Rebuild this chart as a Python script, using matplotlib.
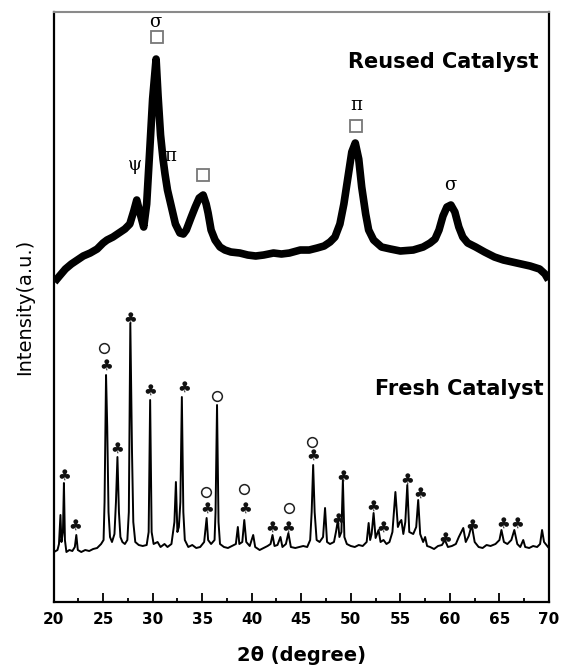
import matplotlib
matplotlib.use("Agg")
import matplotlib.pyplot as plt

# reused catalyst trace (centre of the noisy band), 2theta / intensity (a.u.)
reused_2theta = [20.1, 20.6, 21.2, 21.8, 22.4, 23.0, 23.7, 24.4, 25.0, 25.4, 26.0, 26.6,
                 27.2, 27.7, 28.1, 28.4, 28.7, 29.1, 29.4, 29.7, 30.0, 30.35, 30.55, 30.8,
                 31.05, 31.25, 31.5, 31.9, 32.3, 32.75, 33.1, 33.4, 33.9, 34.3, 34.7, 35.1,
                 35.4, 35.6, 35.9, 36.3, 36.8, 37.3, 37.9, 38.8, 39.6, 40.4, 41.2, 42.2,
                 43.0, 43.8, 44.9, 45.8, 46.6, 47.3, 47.9, 48.4, 48.9, 49.3, 49.7, 50.1,
                 50.45, 50.8, 51.1, 51.5, 51.8, 52.3, 53.1, 54.0, 55.0, 56.3, 57.3, 58.0,
                 58.5, 58.9, 59.3, 59.7, 60.1, 60.5, 60.9, 61.3, 61.8, 62.6, 63.5, 64.5,
                 65.4, 66.3, 67.2, 68.1, 69.05, 69.6, 69.95]
reused_counts = [320, 326, 333, 338, 342, 346, 349, 353, 359, 362, 365, 369,
                 373, 378, 391, 402, 390, 375, 398, 450, 503, 543, 506, 467,
                 443, 428, 412, 395, 378, 369, 368, 372, 385, 395, 404, 407,
                 398, 389, 372, 362, 355, 352, 350, 349, 347, 346, 347, 349,
                 348, 349, 352, 352, 354, 356, 360, 365, 378, 398, 424, 450,
                 459, 443, 415, 388, 372, 362, 355, 353, 351, 352, 355, 359,
                 363, 372, 386, 395, 397, 390, 375, 365, 359, 355, 350, 345,
                 342, 340, 338, 336, 333, 328, 322]

# fresh catalyst trace
fresh_2theta = [20.05, 20.4, 20.55, 20.7, 20.8, 20.95, 21.05, 21.15, 21.3, 21.6, 21.9, 22.15,
                22.3, 22.45, 22.8, 23.2, 23.6, 24.0, 24.4, 24.8, 25.05, 25.15, 25.3, 25.42,
                25.55, 25.7, 25.9, 26.15, 26.3, 26.45, 26.6, 26.75, 26.95, 27.2, 27.45, 27.6,
                27.75, 27.92, 28.05, 28.25, 28.6, 29.0, 29.4, 29.6, 29.75, 29.9, 30.1, 30.5,
                30.8, 31.2, 31.5, 31.9, 32.2, 32.35, 32.5, 32.65, 32.8, 32.95, 33.1, 33.25,
                33.6, 34.0, 34.4, 34.8, 35.2, 35.45, 35.6, 35.9, 36.25, 36.35, 36.5, 36.65,
                36.8, 37.2, 37.6, 38.0, 38.4, 38.6, 38.75, 39.05, 39.25, 39.45, 39.8, 40.15,
                40.35, 40.8, 41.2, 41.6, 41.9, 42.1, 42.3, 42.6, 42.9, 43.1, 43.45, 43.7,
                43.95, 44.4, 44.8, 45.2, 45.6, 45.9, 46.05, 46.2, 46.35, 46.55, 46.85, 47.2,
                47.4, 47.6, 47.9, 48.3, 48.5, 48.7, 48.85, 49.05, 49.2, 49.35, 49.6, 50.0,
                50.4, 50.8, 51.2, 51.6, 51.8, 51.95, 52.1, 52.3, 52.5, 52.8, 53.0, 53.3,
                53.6, 53.9, 54.2, 54.5, 54.75, 54.95, 55.1, 55.3, 55.5, 55.7, 55.9, 56.3,
                56.6, 56.8, 57.0, 57.3, 57.5, 57.7, 58.0, 58.4, 58.8, 59.2, 59.5, 59.8,
                60.2, 60.6, 60.9, 61.35, 61.6, 61.9, 62.2, 62.5, 62.9, 63.3, 63.7, 64.1,
                64.6, 65.0, 65.2, 65.45, 65.8, 66.2, 66.5, 66.8, 67.1, 67.4, 67.6, 68.0,
                68.4, 68.8, 69.1, 69.3, 69.5, 69.9]
fresh_counts = [50, 52, 58, 87, 60, 70, 119, 62, 50, 52, 51, 55,
                67, 52, 50, 52, 51, 53, 54, 58, 62, 100, 227, 175,
                90, 65, 60, 68, 100, 145, 90, 65, 60, 58, 62, 90,
                279, 150, 80, 60, 57, 56, 57, 70, 202, 70, 58, 60,
                55, 58, 55, 58, 80, 120, 70, 75, 100, 205, 90, 62,
                55, 57, 54, 55, 60, 84, 62, 58, 62, 90, 197, 80,
                58, 55, 54, 56, 58, 75, 58, 60, 82, 60, 56, 67,
                55, 52, 54, 56, 58, 67, 56, 57, 65, 55, 58, 69,
                55, 54, 55, 56, 55, 62, 90, 137, 90, 62, 60, 65,
                94, 60, 58, 60, 70, 82, 65, 70, 122, 65, 58, 56,
                55, 57, 56, 60, 79, 62, 68, 89, 64, 72, 60, 62,
                58, 60, 70, 110, 75, 80, 82, 68, 80, 117, 70, 68,
                75, 102, 68, 60, 65, 56, 55, 53, 56, 57, 62, 55,
                56, 58, 65, 74, 60, 66, 77, 60, 55, 54, 57, 56,
                58, 62, 72, 60, 58, 62, 72, 58, 55, 62, 55, 54,
                56, 55, 58, 72, 60, 55]

# phase markers, fresh catalyst
club_2theta = [21.06, 22.17, 25.3, 26.38, 27.72, 29.74, 33.17, 35.46, 39.32, 42.08, 43.7,
               46.22, 48.74, 49.18, 52.27, 53.28, 55.7, 56.98, 59.5, 62.2, 65.39, 66.74]
club_counts = [127, 77, 237, 154, 284, 212, 215, 94, 94, 75, 75,
               147, 83, 126, 96, 75, 123, 109, 64, 77, 79, 79]
circle_2theta = [25.13, 35.39, 36.53, 39.22, 43.8, 46.05]
circle_counts = [254, 110, 206, 113, 94, 160]

# phase markers, reused catalyst
greek_labels = ["σ", "ψ", "π", "π", "σ"]
greek_2theta = [30.25, 28.2, 31.75, 50.5, 60.0]
greek_counts = [580, 437, 446, 497, 417]
square_2theta = [30.4, 35.1, 50.5]
square_counts = [565, 427, 476]

fig = plt.figure(figsize=(5.64, 6.68), dpi=100)
ax = fig.add_axes([0.0949, 0.0988, 0.8785, 0.8832])

ax.plot(reused_2theta, reused_counts, color="black", lw=5.5, solid_joinstyle="round",
        solid_capstyle="butt")
ax.plot(fresh_2theta, fresh_counts, color="black", lw=1.4)

for x, y in zip(club_2theta, club_counts):
    ax.text(x, y, "♣", fontsize=11, ha="center", va="center", color="#111111", zorder=5)
ax.plot(circle_2theta, circle_counts, "o", ms=7, mfc="none", mec="#222222", mew=1.1)

for lab, x, y in zip(greek_labels, greek_2theta, greek_counts):
    ax.text(x, y, lab, fontsize=13, ha="center", va="center", family="DejaVu Serif",
            zorder=5)
ax.plot(square_2theta, square_counts, "s", ms=9, mfc="none", mec="#777777", mew=1.3)

ax.text(68.9, 540, "Reused Catalyst", fontsize=15, fontweight="bold", ha="right", va="center")
ax.text(69.5, 213, "Fresh Catalyst", fontsize=15, fontweight="bold", ha="right", va="center")

ax.set_xlim(20, 70)
ax.set_ylim(0, 590)
ax.set_xticks(range(20, 71, 5))
ax.set_xticks([22.5 + 5 * i for i in range(10)], minor=True)
ax.set_yticks([])
ax.tick_params(axis="x", which="major", direction="in", length=6.5, width=1.3, pad=7,
               labelsize=11)
ax.tick_params(axis="x", which="minor", direction="in", length=3, width=1.3)
for lab in ax.get_xticklabels():
    lab.set_fontweight("bold")

for side in ("left", "bottom", "right"):
    ax.spines[side].set_linewidth(1.6)
ax.spines["top"].set_linewidth(1.5)
ax.spines["top"].set_color("#8a8a8a")

ax.set_xlabel("2θ (degree)", fontsize=14, fontweight="bold", labelpad=14)
ax.set_ylabel("Intensity(a.u.)", fontsize=14, labelpad=14)

fig.savefig("out.png", dpi=100)
